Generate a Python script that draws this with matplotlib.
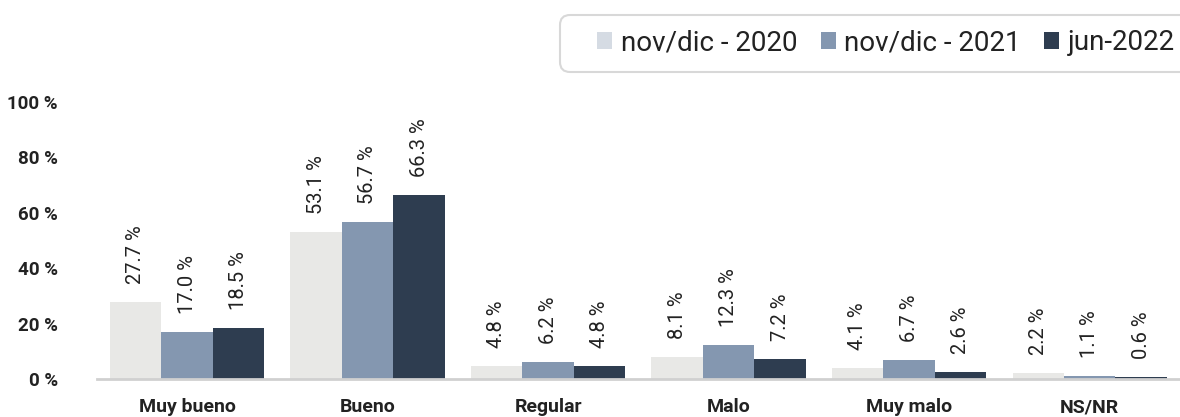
import matplotlib.pyplot as plt
import numpy as np
from matplotlib.patches import Patch, FancyBboxPatch

plt.rcParams['font.family'] = ['Roboto', 'DejaVu Sans']

# data
categories = ["Muy bueno", "Bueno", "Regular", "Malo", "Muy malo", "NS/NR"]
series_names = ["nov/dic - 2020", "nov/dic - 2021", "jun-2022"]
v2020 = [27.7, 53.1, 4.8, 8.1, 4.1, 2.2]
v2021 = [17.0, 56.7, 6.2, 12.3, 6.7, 1.1]
v2022 = [18.5, 66.3, 4.8, 7.2, 2.6, 0.6]
yticks = [0, 20, 40, 60, 80, 100]

bar_colors = ["#e8e8e6", "#8497b0", "#2e3d50"]
legend_colors = ["#d5dbe3", "#8497b0", "#2e3d50"]

fig = plt.figure(figsize=(11.8, 4.17), dpi=100)
ax = fig.add_axes([0.082, 0.0911, 0.918, 0.6643])

x = np.arange(len(categories))
w = 0.285
for i, vals in enumerate([v2020, v2021, v2022]):
    pos = x + (i - 1) * w
    ax.bar(pos, vals, width=w, color=bar_colors[i], edgecolor='none')
    for px, v in zip(pos, vals):
        ax.annotate(f"{v:.1f} %", (px, v), xytext=(0, 13), textcoords='offset points',
                    rotation=90, ha='center', va='bottom', fontsize=14.5, color='#222222')

ax.set_xlim(-0.5, 5.5)
ax.set_ylim(0, 100)
ax.set_yticks(yticks)
ax.set_yticklabels([f"{t} %" for t in yticks], fontsize=13.5, fontweight='bold', color='#222222')
ax.set_xticks(x)
ax.set_xticklabels(categories, fontsize=14, fontweight='bold', color='#222222')
ax.tick_params(axis='both', length=0)
ax.tick_params(axis='y', pad=28)
ax.tick_params(axis='x', pad=14)
for s in ['top', 'right', 'left']:
    ax.spines[s].set_visible(False)
ax.spines['bottom'].set_color('#d0d0d0')
ax.spines['bottom'].set_linewidth(2)

# legend box (runs off the right edge like the original)
box = FancyBboxPatch((5.6, 3.45), 7.0, 0.57, boxstyle="round,pad=0,rounding_size=0.1",
                     transform=fig.dpi_scale_trans, facecolor='white',
                     edgecolor='#d8d8d8', linewidth=1.5)
fig.add_artist(box)

handles = [Patch(facecolor=c, edgecolor='none') for c in legend_colors]
leg = fig.legend(handles, series_names, loc='center left', bbox_to_anchor=(597 / 1180, 1 - 43 / 417),
                 ncol=3, fontsize=20, frameon=False,
                 handlelength=0.55, handleheight=0.55, handletextpad=0.3, columnspacing=0.84,
                 borderpad=0, borderaxespad=0, labelcolor='#222222')

fig.savefig("out.png", dpi=100)
